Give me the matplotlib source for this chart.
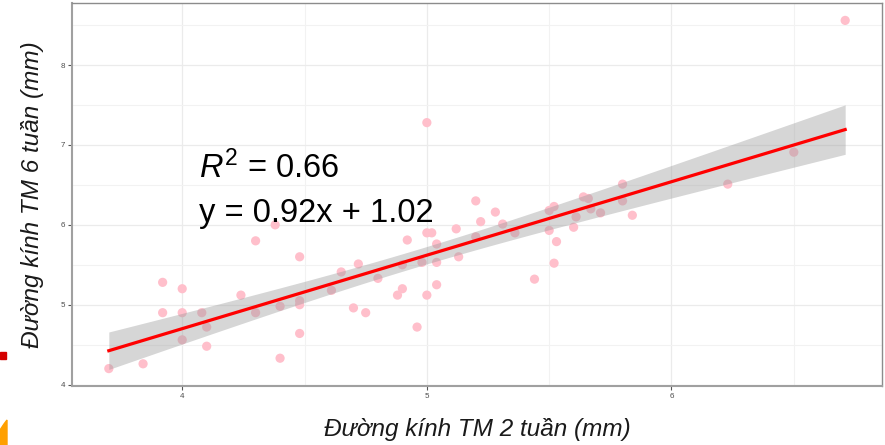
import numpy as np
import matplotlib
matplotlib.use("Agg")
import matplotlib.pyplot as plt
from matplotlib.patches import Rectangle, Polygon

plt.rcParams['font.family'] = ['Liberation Sans', 'DejaVu Sans']
plt.rcParams['mathtext.fontset'] = 'custom'
plt.rcParams['mathtext.rm'] = 'Liberation Sans'
plt.rcParams['mathtext.it'] = 'Liberation Sans:italic'

# Vessel diameter at 2 weeks (x) and 6 weeks (y), mm
tm_2_tuan = [3.70, 3.84, 3.92, 3.92, 4.00, 4.00, 4.00, 4.08, 4.10, 4.10,
             4.24, 4.30, 4.30, 4.38, 4.40, 4.40, 4.48, 4.48, 4.48, 4.48,
             4.61, 4.65, 4.72, 4.70, 4.75, 4.80, 4.88, 4.90, 4.90, 4.92,
             4.96, 4.98, 5.00, 5.02, 5.04, 5.04, 5.00, 5.04, 5.00, 5.12,
             5.13, 5.20, 5.20, 5.22, 5.28, 5.31, 5.36, 5.44, 5.50, 5.52,
             5.50, 5.53, 5.52, 5.60, 5.61, 5.64, 5.66, 5.67, 5.71, 5.80,
             5.80, 5.84, 6.23, 6.50, 6.71]
tm_6_tuan = [4.20, 4.26, 5.28, 4.90, 5.20, 4.90, 4.56, 4.90, 4.72, 4.48,
             5.12, 5.80, 4.90, 6.00, 4.98, 4.33, 5.60, 5.05, 5.00, 4.64,
             5.18, 5.41, 5.51, 4.96, 4.90, 5.33, 5.12, 5.20, 5.50, 5.81,
             4.72, 5.53, 5.90, 5.90, 5.76, 5.53, 5.12, 5.25, 7.28, 5.95,
             5.60, 6.30, 5.85, 6.04, 6.16, 6.01, 5.90, 5.32, 6.18, 6.23,
             5.93, 5.79, 5.52, 5.97, 6.10, 6.35, 6.33, 6.20, 6.15, 6.51,
             6.30, 6.12, 6.51, 6.91, 8.56]

# Regression summary
slope = 0.92
intercept = 1.02
r_squared = 0.66

x_ticks = [4, 5, 6]
y_ticks = [4, 5, 6, 7, 8]
x_label = "Đường kính TM 2 tuần (mm)"
y_label = "Đường kính TM 6 tuần (mm)"

x = np.array(tm_2_tuan)
y = np.array(tm_6_tuan)
n = len(x)

# 95% confidence band around the fitted line
xs = np.linspace(x.min(), x.max(), 200)
yhat = slope * xs + intercept
resid = y - (slope * x + intercept)
s = np.sqrt(np.sum(resid ** 2) / (n - 2))
sxx = np.sum((x - x.mean()) ** 2)
t_crit = 1.998
half = t_crit * s * np.sqrt(1.0 / n + (xs - x.mean()) ** 2 / sxx)

fig = plt.figure(figsize=(8.85, 4.45), dpi=100)
ax = fig.add_axes([72 / 885, 1 - 386 / 445, 810 / 885, 383 / 445])

ax.scatter(x, y, s=44, color='#FFBFCB', edgecolors='none', zorder=2)
ax.fill_between(xs, yhat - half, yhat + half, color='#999999', alpha=0.4,
                linewidth=0, zorder=3)
ax.plot(xs, yhat, color='#FF0000', lw=2.3, zorder=4)

xr = x.max() - x.min()
yr = y.max() - y.min()
ax.set_xlim(x.min() - 0.05 * xr, x.max() + 0.05 * xr)
ax.set_ylim(y.min() - 0.05 * yr, y.max() + 0.05 * yr)

ax.set_xticks(x_ticks)
ax.set_yticks(y_ticks)
ax.set_xticks([4.5, 5.5, 6.5], minor=True)
ax.set_yticks([4.5, 5.5, 6.5, 7.5, 8.5], minor=True)
ax.grid(True, which='major', color='#EBEBEB', lw=0.9, zorder=0)
ax.grid(True, which='minor', color='#F2F2F2', lw=0.8, zorder=0)
ax.set_axisbelow(True)
ax.tick_params(which='minor', length=0)
ax.tick_params(which='major', length=3, width=0.8, color='#555555',
               labelsize=5.8, labelcolor='#4D4D4D', pad=2)

for side in ['top', 'right']:
    ax.spines[side].set_color('#8C8C8C')
    ax.spines[side].set_linewidth(1.0)
for side in ['left', 'bottom']:
    ax.spines[side].set_color('#A0A0A0')
    ax.spines[side].set_linewidth(1.5)

ax.set_xlabel(x_label, fontsize=17.5, style='italic', color='#1A1A1A', labelpad=13)
ax.set_ylabel(y_label, fontsize=17.5, style='italic', color='#1A1A1A', labelpad=12)

ax.text(4.07, 6.59, r'$R^2$' + f' = {r_squared:.2f}', fontsize=23.5,
        ha='left', va='baseline', color='black', zorder=5)
ax.text(4.07, 6.03, f'y = {slope:.2f}x + {intercept:.2f}', fontsize=23.5,
        ha='left', va='baseline', color='black', zorder=5)

# Slide decorations at the left edge
fig.patches.append(Rectangle((0, 1 - 359 / 445), 6 / 885, 7 / 445,
                             transform=fig.transFigure, color='#D40000'))
fig.patches.append(Polygon([(0, 0), (7 / 885, 0), (7 / 885, 1 - 420 / 445),
                            (4 / 885, 1 - 424 / 445), (0, 1 - 430 / 445)],
                           closed=True, transform=fig.transFigure,
                           color='#FFA000'))

fig.savefig('out.png', dpi=100)
